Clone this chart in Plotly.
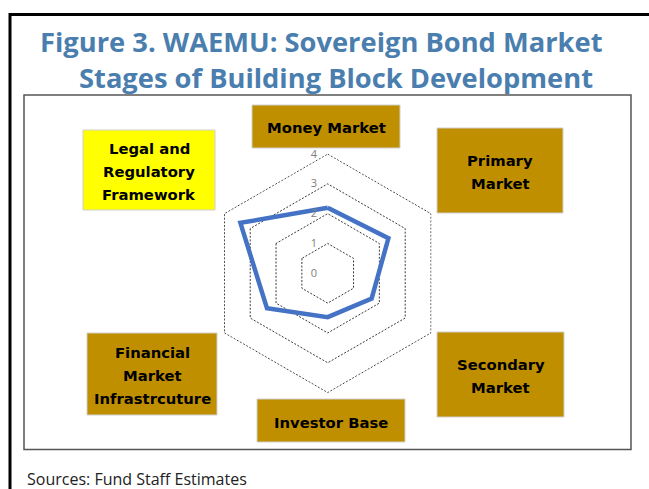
import plotly.graph_objects as go

W, H = 649, 489

# ---- data ----
categories = ["Money Market", "Primary Market", "Secondary Market",
              "Investor Base", "Financial Market Infrastructure",
              "Legal and Regulatory Framework"]
values = [2.2, 2.35, 1.7, 1.47, 2.35, 3.38]
box_labels = [["Money Market"], ["Primary", "Market"], ["Secondary", "Market"],
              ["Investor Base"], ["Financial", "Market", "Infrastrcuture"],
              ["Legal and", "Regulatory", "Framework"]]
box_colors = ["#BF8F00", "#BF8F00", "#BF8F00", "#BF8F00", "#BF8F00", "#FFFF00"]
radial_ticks = [0, 1, 2, 3, 4]
outer_ring = [4, 4, 4, 4, 4, 4]
title_lines = ["Figure 3. WAEMU: Sovereign Bond Market",
               "Stages of Building Block Development"]
source_text = "Sources: Fund Staff Estimates"

# ---- layout helpers (pixel -> paper) ----
def px(x):
    return x / W

def py(y):
    return 1 - y / H

# box geometry in pixels: (cx, cy, w, h)
box_geom = [(326, 126.5, 148, 43), (500, 170.5, 126, 85), (500.5, 374.5, 127, 85),
            (331, 420.5, 148, 43), (152, 374, 130, 82), (149, 170, 132, 80)]
LINE_STEP = 22.8

RMAX = 4.02
cx, cy = 327.7, 273.3
R = 119.3 * RMAX / 4
GRID_COLOR = "#3a3a3a"
GRID_DASH = "2px,1.6px"

fig = go.Figure()
fig.add_trace(go.Scatterpolar(
    r=outer_ring + outer_ring[:1],
    theta=categories + categories[:1],
    mode="lines",
    line=dict(color=GRID_COLOR, width=1, dash=GRID_DASH),
    hoverinfo="skip",
))
fig.add_trace(go.Scatterpolar(
    r=values + values[:1],
    theta=categories + categories[:1],
    mode="lines",
    line=dict(color="#4472C4", width=4.5),
    hoverinfo="skip",
))

annotations = []
for i, t in enumerate(title_lines):
    annotations.append(dict(
        text=t, x=px(321.5 if i == 0 else 336), y=py(41 if i == 0 else 78),
        xref="paper", yref="paper", showarrow=False, xanchor="center", yanchor="middle",
        font=dict(family="Open Sans", size=27.3, color="#4A7EAE", weight="bold"),
    ))

shapes = [
    dict(type="rect", xref="paper", yref="paper", x0=px(10), x1=px(660), y0=py(14.5), y1=py(500),
         line=dict(color="#000000", width=3), fillcolor="rgba(0,0,0,0)", layer="below"),
    dict(type="rect", xref="paper", yref="paper", x0=px(24), x1=px(631), y0=py(95), y1=py(449.5),
         line=dict(color="#555555", width=1.5), fillcolor="rgba(0,0,0,0)", layer="below"),
]

for lines, col, (bx, by, bw, bh) in zip(box_labels, box_colors, box_geom):
    shapes.append(dict(
        type="rect", xref="paper", yref="paper",
        x0=px(bx - bw / 2), x1=px(bx + bw / 2), y0=py(by + bh / 2), y1=py(by - bh / 2),
        fillcolor=col, line=dict(color="#D0D0D0", width=1), layer="above",
    ))
    n = len(lines)
    for k, ln in enumerate(lines):
        annotations.append(dict(
            text="<b>" + ln + "</b>", x=px(bx), y=py(by + 1.5 + (k - (n - 1) / 2) * LINE_STEP),
            xref="paper", yref="paper", showarrow=False, xanchor="center", yanchor="middle",
            font=dict(family="DejaVu Sans", size=14.8, color="#000000"),
        ))

annotations.append(dict(
    text=source_text, x=px(25), y=py(478.5), xref="paper", yref="paper",
    showarrow=False, xanchor="left", yanchor="middle",
    font=dict(family="Open Sans", size=16, color="#222222"),
))

fig.update_layout(
    width=W, height=H,
    margin=dict(l=0, r=0, t=0, b=0),
    paper_bgcolor="white",
    showlegend=False,
    annotations=annotations,
    shapes=shapes,
    polar=dict(
        domain=dict(x=[px(cx - R), px(cx + R)], y=[py(cy + R), py(cy - R)]),
        bgcolor="rgba(0,0,0,0)",
        gridshape="linear",
        radialaxis=dict(
            range=[0, RMAX], tickvals=radial_ticks,
            ticktext=[str(v) + "\u00a0\u00a0\u00a0" for v in radial_ticks],
            angle=90, tickangle=90, side="counterclockwise",
            showline=False, ticks="", showgrid=True,
            gridcolor=GRID_COLOR, gridwidth=1, griddash=GRID_DASH,
            tickfont=dict(family="Open Sans", size=11, color="#808080"),
        ),
        angularaxis=dict(
            type="category", categoryarray=categories, rotation=90, direction="clockwise",
            showticklabels=False, ticks="", showgrid=False, showline=False,
        ),
    ),
)

fig.write_html("out.html", config={"displayModeBar": False},
               post_script="document.body.style.margin='0';document.body.style.overflow='hidden';")
